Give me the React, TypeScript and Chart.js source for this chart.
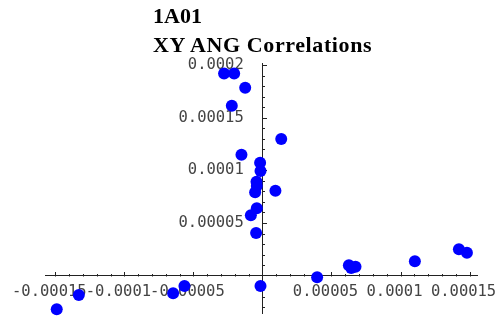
import React, { useEffect, useRef } from "react";
import { Chart, registerables } from "chart.js";

Chart.register(...registerables);

const titleLines = ["1A01", "XY ANG Correlations"];

const pointsX = [
  -27.8e-6, -20.5e-6, -12.5e-6, -22.2e-6, 13.6e-6, -15.2e-6, -1.7e-6, -1.4e-6,
  -4.3e-6, -4.1e-6, -5.3e-6, 9.4e-6, -4.1e-6, -8.4e-6, -4.6e-6, 62.6e-6,
  64.3e-6, 67.4e-6, 110.4e-6, 142.3e-6, 148.1e-6, 39.6e-6, -1.4e-6, -56.5e-6,
  -64.7e-6, -133e-6, -149e-6,
];
const pointsY = [
  192.1e-6, 192.1e-6, 178.5e-6, 161.4e-6, 129.8e-6, 114.9e-6, 107.3e-6, 99.4e-6,
  89.2e-6, 85.1e-6, 79.2e-6, 80.7e-6, 64.0e-6, 57.3e-6, 40.5e-6, 9.9e-6,
  7.3e-6, 8.5e-6, 13.7e-6, 25.1e-6, 21.8e-6, -1.5e-6, -9.8e-6, -9.8e-6,
  -16.7e-6, -18.3e-6, -31.9e-6,
];

const xMajorTicks = [-0.00015, -0.0001, -0.00005, 0.00005, 0.0001, 0.00015];
const xTickLabels = ["-0.00015", "-0.0001", "-0.00005", "0.00005", "0.0001", "0.00015"];
const yMajorTicks = [0.00005, 0.0001, 0.00015, 0.0002];
const yTickLabels = ["0.00005", "0.0001", "0.00015", "0.0002"];

const X_MIN = -0.0001575;
const X_MAX = 0.0001554;
const Y_MIN = -0.0000355;
const Y_MAX = 0.000202;
const MINOR_STEP = 0.00001;

const minorValues = (min: number, max: number) => {
  const out: number[] = [];
  const a = Math.ceil(min / MINOR_STEP);
  const b = Math.floor(max / MINOR_STEP);
  for (let i = a; i <= b; i++) if (i !== 0 && i % 5 !== 0) out.push(i * MINOR_STEP);
  return out;
};

const labelFont = { family: "'DejaVu Sans Mono', monospace", size: 15.5 };
const labelColor = "#444";
const axisColor = "#222";

const noPad = (s: any) => {
  s.paddingLeft = 0;
  s.paddingRight = 0;
  s.paddingTop = 0;
  s.paddingBottom = 0;
};

const tickMarks = {
  id: "tickMarks",
  beforeDatasetsDraw(chart: any) {
    const { ctx, scales } = chart;
    const xs = scales.x;
    const ys = scales.y;
    const x0 = Math.round(xs.getPixelForValue(0)) + 0.5;
    const y0 = Math.round(ys.getPixelForValue(0)) + 0.5;
    ctx.save();
    ctx.strokeStyle = axisColor;
    ctx.lineWidth = 1;
    ctx.beginPath();
    const drawX = (v: number, len: number) => {
      const px = Math.round(xs.getPixelForValue(v)) + 0.5;
      ctx.moveTo(px, y0);
      ctx.lineTo(px, y0 - len);
    };
    const drawY = (v: number, len: number) => {
      const py = Math.round(ys.getPixelForValue(v)) + 0.5;
      ctx.moveTo(x0, py);
      ctx.lineTo(x0 + len, py);
    };
    xMajorTicks.forEach((v) => drawX(v, 4.5));
    minorValues(X_MIN, X_MAX).forEach((v) => drawX(v, 2.5));
    yMajorTicks.forEach((v) => drawY(v, 4.5));
    minorValues(Y_MIN, Y_MAX).forEach((v) => drawY(v, 2.5));
    ctx.stroke();
    ctx.restore();
  },
};

export default function App() {
  const ref = useRef<HTMLCanvasElement | null>(null);
  useEffect(() => {
    if (!ref.current) return;
    const data = pointsX.map((x, i) => ({ x, y: pointsY[i] }));
    const chart = new Chart(ref.current, {
      type: "scatter",
      data: {
        datasets: [
          {
            data,
            backgroundColor: "#0000ff",
            borderWidth: 0,
            pointRadius: 6,
            pointHoverRadius: 6,
            clip: false as any,
          },
        ],
      },
      plugins: [tickMarks],
      options: {
        responsive: false,
        animation: false,
        events: [],
        layout: { padding: { left: 45, right: 20, top: 63, bottom: 7 }, autoPadding: false } as any,
        plugins: { legend: { display: false }, tooltip: { enabled: false }, title: { display: false } },
        scales: {
          x: {
            type: "linear",
            position: { y: 0 } as any,
            min: X_MIN,
            max: X_MAX,
            afterFit: noPad,
            afterBuildTicks: (s: any) => {
              s.ticks = xMajorTicks.map((v) => ({ value: v }));
            },
            ticks: {
              autoSkip: false,
              maxRotation: 0,
              minRotation: 0,
              includeBounds: false,
              padding: 7,
              labelOffset: -6,
              font: labelFont,
              color: labelColor,
              callback: (_v: any, i: number) => xTickLabels[i],
            },
            grid: { display: true, drawOnChartArea: false, drawTicks: false, tickLength: 0 },
            border: { display: true, color: axisColor, width: 1 },
          },
          y: {
            type: "linear",
            position: { x: 0 } as any,
            min: Y_MIN,
            max: Y_MAX,
            afterFit: noPad,
            afterBuildTicks: (s: any) => {
              s.ticks = yMajorTicks.map((v) => ({ value: v }));
            },
            ticks: {
              autoSkip: false,
              includeBounds: false,
              padding: 0,
              font: labelFont,
              color: labelColor,
              callback: (_v: any, i: number) => yTickLabels[i] + "  ",
            },
            grid: { display: true, drawOnChartArea: false, drawTicks: false, tickLength: 0 },
            border: { display: true, color: axisColor, width: 1 },
          },
        },
      },
    });
    return () => chart.destroy();
  }, []);

  return (
    <div style={{ position: "absolute", left: 0, top: 0, width: 497, height: 320, background: "#fff" }}>
      <canvas ref={ref} width={497} height={320} style={{ width: 497, height: 320, display: "block" }} />
      <div
        style={{
          position: "absolute",
          left: 153,
          top: 1.4,
          font: "bold 22px 'Liberation Serif', serif",
          lineHeight: "29px",
          color: "#000",
          whiteSpace: "nowrap",
        }}
      >
        {titleLines.map((t, i) => (
          <div key={t} style={{ letterSpacing: i === 1 ? "0.6px" : "0px" }}>
            {t}
          </div>
        ))}
      </div>
    </div>
  );
}
